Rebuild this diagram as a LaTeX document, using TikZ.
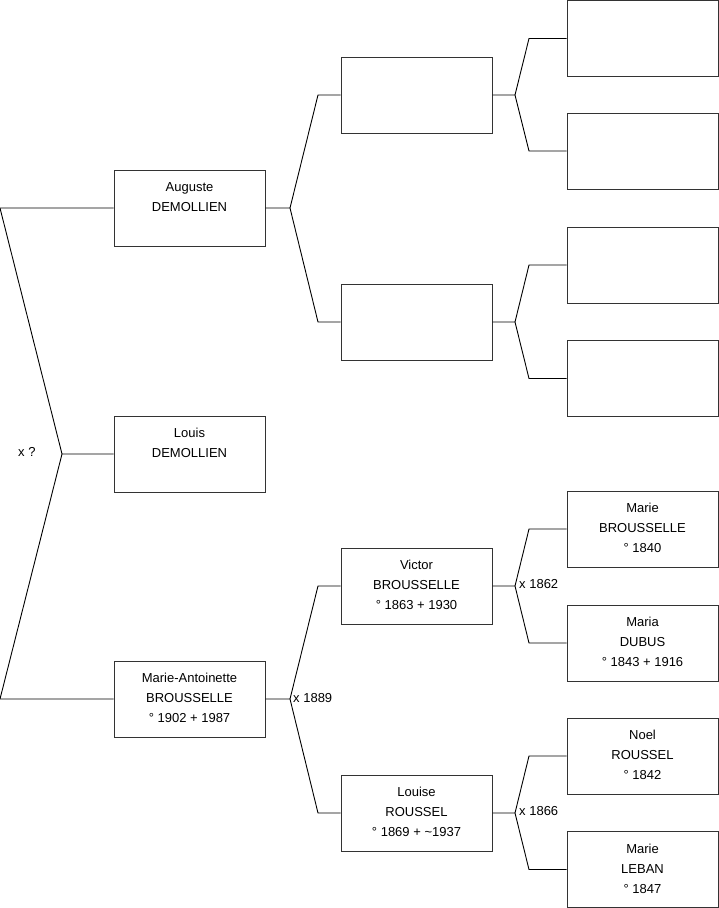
\documentclass[tikz,border=0pt]{standalone}
\usepackage{fontspec}
\setmainfont{Liberation Sans}
\begin{document}
\begin{tikzpicture}[x=1pt,y=-1pt,
  box/.style={draw=black!80, line width=1pt, minimum width=151pt, minimum height=76pt, inner sep=0pt},
  txt/.style={anchor=north, align=center, inner sep=0pt, font=\fontsize{13}{20}\selectfont},
  conn/.style={draw=black, line width=0.9pt},
  mar/.style={anchor=west, inner sep=0pt, font=\fontsize{13}{14}\selectfont}]
\useasboundingbox (0,0) rectangle (719,908);
% level 1
\node[box] (a1) at (189.5,208) {};
\node[box] (a2) at (189.5,454) {};
\node[box] (a3) at (189.5,699) {};
% level 2
\node[box] (b1) at (416.5,95) {};
\node[box] (b2) at (416.5,322) {};
\node[box] (b3) at (416.5,586) {};
\node[box] (b4) at (416.5,813) {};
% level 3
\node[box] (c1) at (642.5,38.5) {};
\node[box] (c2) at (642.5,151) {};
\node[box] (c3) at (642.5,265) {};
\node[box] (c4) at (642.5,378.5) {};
\node[box] (c5) at (642.5,529) {};
\node[box] (c6) at (642.5,643) {};
\node[box] (c7) at (642.5,756) {};
\node[box] (c8) at (642.5,869.5) {};
% texts
\node[txt] (ta1) at ([yshift=-8pt]a1.north) {\strut Auguste\\DEMOLLIEN};
\node[txt] (ta2) at ([yshift=-8pt]a2.north) {\strut Louis\\DEMOLLIEN};
\node[txt] (ta3) at ([yshift=-8pt]a3.north) {\strut Marie-Antoinette\\BROUSSELLE\\° 1902 + 1987};
\node[txt] (tb3) at ([yshift=-8pt]b3.north) {\strut Victor\\BROUSSELLE\\° 1863 + 1930};
\node[txt] (tb4) at ([yshift=-8pt]b4.north) {\strut Louise\\ROUSSEL\\° 1869 + \textasciitilde 1937};
\node[txt] (tc5) at ([yshift=-8pt]c5.north) {\strut Marie\\BROUSSELLE\\° 1840};
\node[txt] (tc6) at ([yshift=-8pt]c6.north) {\strut Maria\\DUBUS\\° 1843 + 1916};
\node[txt] (tc7) at ([yshift=-8pt]c7.north) {\strut Noel\\ROUSSEL\\° 1842};
\node[txt] (tc8) at ([yshift=-8pt]c8.north) {\strut Marie\\LEBAN\\° 1847};
% left bracket
\coordinate (l1) at (0,208);
\coordinate (l2) at (62,454);
\coordinate (l3) at (0,699);
\draw[conn] (a1.west) -- (l1) -- (l2) -- (a2.west);
\draw[conn] (l2) -- (l3) -- (a3.west);
\node[mar] (m0) at (18,452) {x ?};
% level 1 -> 2
\coordinate (f1) at (290,208);
\draw[conn] (a1.east) -- (f1) -- (318,95) -- (b1.west);
\draw[conn] (f1) -- (318,322) -- (b2.west);
\coordinate (f3) at (290,699);
\draw[conn] (a3.east) -- (f3) -- (318,586) -- (b3.west);
\draw[conn] (f3) -- (318,813) -- (b4.west);
\node[mar] (m1) at (293,698) {x 1889};
% level 2 -> 3
\coordinate (g1) at (515,95);
\draw[conn] (b1.east) -- (g1) -- (529,38.5) -- (c1.west);
\draw[conn] (g1) -- (529,151) -- (c2.west);
\coordinate (g2) at (515,322);
\draw[conn] (b2.east) -- (g2) -- (529,265) -- (c3.west);
\draw[conn] (g2) -- (529,378.5) -- (c4.west);
\coordinate (g3) at (515,586);
\draw[conn] (b3.east) -- (g3) -- (529,529) -- (c5.west);
\draw[conn] (g3) -- (529,643) -- (c6.west);
\coordinate (g4) at (515,813);
\draw[conn] (b4.east) -- (g4) -- (529,756) -- (c7.west);
\draw[conn] (g4) -- (529,869.5) -- (c8.west);
\node[mar] (m2) at (519,584) {x 1862};
\node[mar] (m3) at (519,811) {x 1866};
\end{tikzpicture}
\end{document}
